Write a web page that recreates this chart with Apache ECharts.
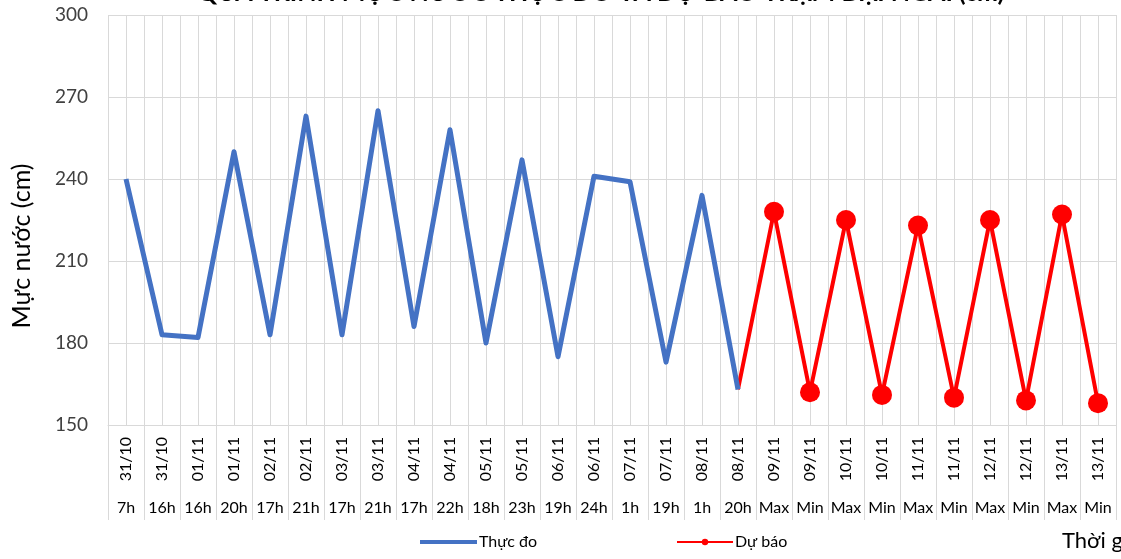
<!DOCTYPE html>
<html>
<head>
<meta charset="utf-8">
<script src="https://cdn.jsdelivr.net/npm/echarts@6/dist/echarts.min.js"></script>
<style>
  html, body { margin: 0; padding: 0; background: #fff; }
  #chart { width: 1121px; height: 559px; }
</style>
</head>
<body>
<div id="chart"></div>
<script>
// ngay / gio cua tung moc
var days = ['31/10', '31/10', '01/11', '01/11', '02/11', '02/11', '03/11', '03/11', '04/11', '04/11',
            '05/11', '05/11', '06/11', '06/11', '07/11', '07/11', '08/11', '08/11',
            '09/11', '09/11', '10/11', '10/11', '11/11', '11/11', '12/11', '12/11', '13/11', '13/11'];
var hours = ['7h', '16h', '16h', '20h', '17h', '21h', '17h', '21h', '17h', '22h',
             '18h', '23h', '19h', '24h', '1h', '19h', '1h', '20h',
             'Max', 'Min', 'Max', 'Min', 'Max', 'Min', 'Max', 'Min', 'Max', 'Min'];
// muc nuoc thuc do (cm)
var thucDo = [240, 183, 182, 250, 183, 263, 183, 265, 186, 258,
              180, 247, 175, 241, 239, 173, 234, 163];
// du bao (bat dau tu moc 08/11 20h)
var duBao = [163, 228, 162, 225, 161, 223, 160, 225, 159, 227, 158];
var yTicks = [150, 180, 210, 240, 270, 300];

var FONT = 'Lato, "Noto Sans", sans-serif';
var cats = days.map(function (d, i) { return i; });

var blueData = thucDo.slice();
while (blueData.length < cats.length) blueData.push('-');

var redData = [];
var start = cats.length - duBao.length;
for (var i = 0; i < cats.length; i++) {
    if (i < start) { redData.push('-'); continue; }
    var v = duBao[i - start];
    redData.push(i === start ? { value: v, symbol: 'none' } : v);
}

// truc phu chia doi moi o de ve luoi doc
var halfCats = [];
for (var k = 0; k < cats.length * 2; k++) halfCats.push(k);

var chart = echarts.init(document.getElementById('chart'));
var option = {
    animation: false,
    textStyle: { fontFamily: FONT },
    title: {
        text: 'QUÁ TRÌNH MỰC NƯỚC THỰC ĐO VÀ DỰ BÁO TRẠM ĐẠI NGÃI (cm)',
        left: 192,
        top: -25,
        textStyle: { fontSize: 25, fontWeight: 'bold', color: '#000', fontFamily: FONT }
    },
    grid: { left: 108, right: 5, top: 15, bottom: 134 },
    legend: [
        {
            left: 415,
            top: 529,
            itemWidth: 57,
            itemHeight: 12,
            itemGap: 0,
            textStyle: { fontSize: 16, color: '#000', fontFamily: FONT, padding: [0, 0, 0, -3] },
            data: [{ name: 'Thực đo', icon: 'path://M0,0H1V0.01H0Z M0,4H57V8H0Z M0,11.99H1V12H0Z' }]
        },
        {
            left: 671,
            top: 529,
            itemWidth: 56,
            itemHeight: 8,
            itemGap: 0,
            textStyle: { fontSize: 16, color: '#000', fontFamily: FONT, padding: [0, 0, 0, -3] },
            data: ['Dự báo']
        }
    ],
    xAxis: [
        {
            type: 'category',
            data: cats,
            boundaryGap: true,
            axisLine: { lineStyle: { color: '#d9d9d9', width: 1 } },
            axisTick: { show: true, length: 95, lineStyle: { color: '#d9d9d9' } },
            axisLabel: {
                interval: 0, rotate: 90, margin: 12,
                fontSize: 16, color: '#000', fontFamily: FONT,
                formatter: function (v, idx) { return days[idx]; }
            },
            splitLine: { show: false }
        },
        {
            type: 'category',
            data: cats,
            position: 'bottom',
            boundaryGap: true,
            axisLine: { show: false },
            axisTick: { show: false },
            axisLabel: {
                interval: 0, margin: 75,
                fontSize: 16, color: '#000', fontFamily: FONT,
                formatter: function (v, idx) { return hours[idx]; }
            }
        },
        {
            type: 'category',
            data: halfCats,
            boundaryGap: true,
            axisLine: { show: false },
            axisTick: { show: false },
            axisLabel: { show: false },
            splitLine: { show: true, interval: 0, lineStyle: { color: '#d9d9d9', width: 1 } }
        }
    ],
    yAxis: {
        type: 'value',
        min: yTicks[0],
        max: yTicks[yTicks.length - 1],
        interval: 30,
        axisLine: { show: false },
        axisTick: { show: false },
        axisLabel: { fontSize: 19, color: '#404040', margin: 20, fontFamily: FONT },
        splitLine: { lineStyle: { color: '#d9d9d9', width: 1 } }
    },
    graphic: [
        {
            type: 'text',
            x: 22,
            y: 246,
            rotation: Math.PI / 2,
            style: { text: 'Mực nước (cm)', font: '25px ' + FONT, fill: '#000', align: 'center', verticalAlign: 'middle' }
        },
        {
            type: 'text',
            left: 1062,
            top: 530,
            style: { text: 'Thời gian', font: '22px ' + FONT, fill: '#000' }
        }
    ],
    series: [
        {
            name: 'Thực đo',
            type: 'line',
            xAxisIndex: 0,
            data: blueData,
            symbol: 'none',
            itemStyle: { color: '#4472C4' },
            lineStyle: { color: '#4472C4', width: 5, join: 'round' },
            z: 3
        },
        {
            name: 'Dự báo',
            type: 'line',
            xAxisIndex: 0,
            data: redData,
            symbol: 'circle',
            symbolSize: 20,
            itemStyle: { color: '#FF0000' },
            lineStyle: { color: '#FF0000', width: 4 },
            z: 2
        }
    ]
};
chart.setOption(option);
</script>
</body>
</html>
